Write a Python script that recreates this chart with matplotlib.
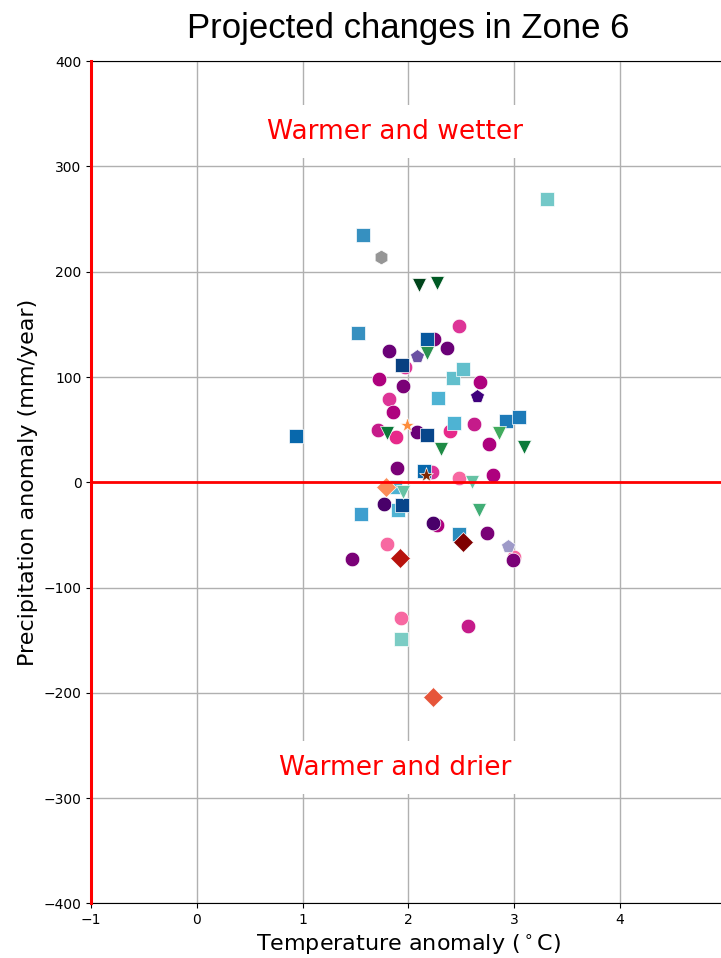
import matplotlib
matplotlib.use("Agg")
import matplotlib.pyplot as plt

# ---------------- data ----------------
circle_x = [2.268, 2.479, 2.245, 2.362, 1.82, 1.968, 1.725, 1.946, 2.677, 1.82, 1.857, 2.62, 1.71,
            1.88, 2.085, 2.394, 2.766, 1.895, 2.22, 2.482, 2.80, 1.769, 2.236, 2.74, 3.00, 2.993,
            1.80, 1.463, 1.927, 2.567]
circle_y = [-40.6, 148.4, 135.8, 127.8, 125.0, 109.5, 98.4, 91.5, 95.5, 79.4, 66.8, 55.0, 49.7,
            43.3, 48.0, 49.0, 36.4, 13.3, 10.0, 3.8, 6.9, -20.6, -38.4, -48.4, -70.6, -73.8,
            -58.6, -72.8, -128.6, -136.5]
circle_c = ["#ae017e", "#dd3497", "#7a0177", "#6a0177", "#6a0177", "#dd3497", "#ae017e", "#7a0177",
            "#ae017e", "#dd3497", "#ae017e", "#c51b8a", "#c51b8a", "#e7298a", "#6a0177", "#e7298a",
            "#ae017e", "#7a0177", "#dd3497", "#f768a1", "#ae017e", "#49006a", "#49006a", "#7a0177",
            "#f768a1", "#7a0177", "#f768a1", "#7a0177", "#f768a1", "#c51b8a"]

square_x = [3.31, 1.573, 1.52, 2.173, 1.937, 2.425, 2.513, 2.283, 2.92, 3.05, 2.431, 0.934, 2.18,
            2.148, 1.873, 1.905, 1.942, 1.552, 2.475, 1.93]
square_y = [268.8, 234.8, 142.0, 135.8, 111.4, 98.8, 107.3, 79.8, 58.5, 61.7, 56.0, 44.0, 44.6,
            11.0, -4.2, -26.3, -21.6, -30.1, -49.4, -148.8]
square_c = ["#73c8c8", "#3690c0", "#3690c0", "#08589e", "#084081", "#62bfcc", "#62bfcc", "#4eb3d3",
            "#1d7ab8", "#1d7ab8", "#4eb3d3", "#0868ac", "#08468b", "#0868ac", "#4eb3d3", "#4eb3d3",
            "#08468b", "#3f9fcf", "#2b8cbe", "#7bccc4"]

tri_x = [2.10, 2.273, 2.173, 1.80, 2.857, 3.094, 2.305, 2.60, 1.953, 2.668]
tri_y = [187.0, 189.6, 122.5, 46.5, 46.5, 33.8, 31.3, 0.6, -8.9, -26.3]
tri_c = ["#00441b", "#005a24", "#2a9150", "#0b7a3a", "#41ab5d", "#0b7a3a", "#1e8b45", "#66c2a4",
         "#66c2a4", "#41ae76"]

dia_x = [1.788, 2.513, 1.92, 2.236]
dia_y = [-4.7, -57.0, -72.2, -203.6]
dia_c = ["#fc8d59", "#7f0000", "#b7120c", "#e6553a"]

pent_x = [2.084, 2.646, 2.946]
pent_y = [120.0, 82.0, -60.5]
pent_c = ["#6a51a3", "#3f007d", "#9e9ac8"]

star_x = [1.99, 2.166]
star_y = [54.1, 6.9]
star_c = ["#fd8d3c", "#7f2704"]

hex_x = [1.738]
hex_y = [213.7]
hex_c = ["#969696"]

x_ticks = [-1, 0, 1, 2, 3, 4, 5]
y_ticks = [-400, -300, -200, -100, 0, 100, 200, 300, 400]

# ---------------- figure ----------------
fig = plt.figure(figsize=(7.21, 9.58), dpi=100)
ax = fig.add_axes([0.1266, 0.0569, 0.8796, 0.8793])
ax.set_xlim(-1, 5)
ax.set_ylim(-400, 400)
ax.set_xticks(x_ticks)
ax.set_yticks(y_ticks)
ax.tick_params(labelsize=10)
ax.grid(True, color="#b0b0b0", lw=1.0)
ax.set_axisbelow(True)

groups = [
    (circle_x, circle_y, circle_c, "o", 10.5),
    (square_x, square_y, square_c, "s", 10),
    (tri_x, tri_y, tri_c, "v", 10),
    (dia_x, dia_y, dia_c, "D", 10),
    (pent_x, pent_y, pent_c, "p", 10.5),
    (star_x, star_y, star_c, "*", 11),
    (hex_x, hex_y, hex_c, "h", 10.5),
]
for xs, ys, cs, m, ms in groups:
    for xv, yv, cv in zip(xs, ys, cs):
        ax.plot(xv, yv, marker=m, ms=ms, color=cv, mec="white", mew=0.5,
                linestyle="none", zorder=3)

ax.axhline(0, color="red", lw=2, zorder=5)
ax.axvline(-1, color="red", lw=2.2, zorder=5, clip_on=False)

ax.text(1.875, 333, "Warmer and wetter", color="red", fontsize=19, ha="center", va="center",
        bbox=dict(facecolor="white", edgecolor="none", pad=9.5), zorder=2)
ax.text(1.875, -271, "Warmer and drier", color="red", fontsize=19, ha="center", va="center",
        bbox=dict(facecolor="white", edgecolor="none", pad=9.5), zorder=2)

ax.set_xlabel("Temperature anomaly ($^\\circ$C)", fontsize=16)
ax.set_ylabel("Precipitation anomaly (mm/year)", fontsize=16)
ax.set_title("Projected changes in Zone 6", fontsize=25, family="Liberation Sans", pad=17)

fig.savefig("out.png", dpi=100)
